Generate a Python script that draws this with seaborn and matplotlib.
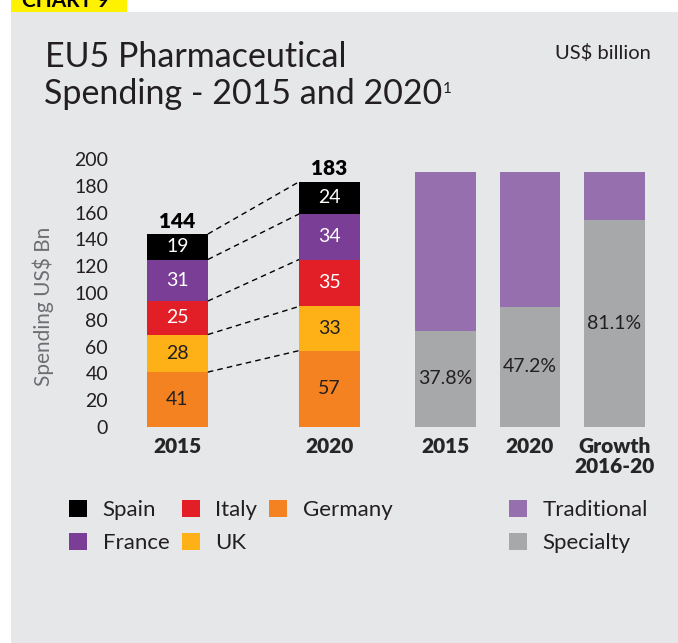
import matplotlib.pyplot as plt
from matplotlib.patches import Patch, Rectangle
import pandas as pd
import seaborn as sns

# spending by country, stacked bottom to top
years = ["2015", "2020"]
countries = ["Germany", "UK", "Italy", "France", "Spain"]
spend_2015 = [41, 28, 25, 31, 19]
spend_2020 = [57, 33, 35, 34, 24]
country_colors = {
    "Germany": "#F58220",
    "UK": "#FDB116",
    "Italy": "#E21E26",
    "France": "#7A3E97",
    "Spain": "#000000",
}
text_on_bar = {"Germany": "#231F20", "UK": "#231F20", "Italy": "white", "France": "white", "Spain": "white"}

# specialty share of spending
share_cats = ["2015", "2020", "Growth\n2016-20"]
specialty_share = [37.8, 47.2, 81.1]
traditional_color = "#9670AE"
specialty_color = "#A7A8AA"

BG = "#E6E7E9"
DARK = "#231F20"
W, H = 678, 643

sns.set_style("white")
plt.rcParams["font.family"] = ["Lato", "DejaVu Sans"]

fig = plt.figure(figsize=(W / 100, H / 100), dpi=100)
fig.patch.set_facecolor("white")
fig.patches.append(Rectangle((11 / W, 0), 1 - 11 / W, 1 - 12 / H, transform=fig.transFigure,
                             facecolor=BG, edgecolor="none", zorder=-10))
fig.patches.append(Rectangle((11 / W, 1 - 12 / H), (127 - 11) / W, 12 / H, transform=fig.transFigure,
                             facecolor="#FFF200", edgecolor="none", zorder=-10))
fig.text(22 / W, 1 - 7 / H, "CHART 9", weight="bold", fontsize=15, va="baseline", color="black")

# titles
fig.text(45 / W, 1 - 67 / H, "EU5 Pharmaceutical", fontsize=24.5, color=DARK, va="baseline")
t2 = fig.text(44 / W, 1 - 104 / H, "Spending - 2015 and 2020", fontsize=24.5, color=DARK,
              va="baseline")
bb = t2.get_window_extent(renderer=fig.canvas.get_renderer())
fig.text((bb.x1 + 1) / W, 1 - 93 / H, "1", fontsize=11, color=DARK, va="baseline")
fig.text(651 / W, 1 - 53 / H, "US$ billion", fontsize=14.5, color=DARK, va="center", ha="right")

# ---- left: stacked spending bars ----
df = pd.DataFrame({"Country": countries * 2,
                   "Year": [y for y in years for _ in countries],
                   "Spend": spend_2015 + spend_2020})
df["Top"] = df.groupby("Year")["Spend"].cumsum()

bar_w = 0.4
ax1 = fig.add_axes([115 / W, 216 / H, 280 / W, 268 / H])
for country in reversed(countries):
    sub = df[df["Country"] == country]
    sns.barplot(data=sub, x="Year", y="Top", order=years, color=country_colors[country],
                saturation=1, width=bar_w, errorbar=None, linewidth=0, ax=ax1)

for _, row in df.iterrows():
    xi = years.index(row["Year"])
    ax1.text(xi, row["Top"] - row["Spend"] / 2, str(row["Spend"]), ha="center", va="center",
             fontsize=14, color=text_on_bar[row["Country"]])

totals = df.groupby("Year")["Spend"].sum()
for xi, yr in enumerate(years):
    ax1.text(xi, totals[yr] + 2.5, str(totals[yr]), ha="center", va="bottom", fontsize=15,
             weight="heavy", color="black")

tops_2015 = df[df["Year"] == "2015"]["Top"].tolist()
tops_2020 = df[df["Year"] == "2020"]["Top"].tolist()
for a, b in zip(tops_2015, tops_2020):
    ax1.plot([bar_w / 2, 1 - bar_w / 2], [a, b], color="black", lw=1, ls=(0, (4, 3)))

ax1.set_ylim(0, 200)
ax1.set_xlim(-0.411, 1.431)
ax1.set_yticks(range(0, 201, 20))
ax1.set_xlabel("")
ax1.set_ylabel("")
ax1.tick_params(axis="both", length=0)
ax1.tick_params(axis="y", pad=5, labelsize=14, labelcolor=DARK)
ax1.tick_params(axis="x", pad=7)
ax1.set_xticks(range(len(years)))
ax1.set_xticklabels(years, fontsize=15, weight="heavy")
ax1.set_facecolor("none")
sns.despine(ax=ax1, left=True, bottom=True)
fig.text(43 / W, 1 - 306 / H, "Spending US$ Bn", rotation=90, fontsize=15,
         color="#6D6E71", ha="center", va="center")

# ---- right: specialty vs traditional share ----
share = pd.DataFrame({"Cat": share_cats, "Specialty": specialty_share})
share["Total"] = 100
ax2 = fig.add_axes([400 / W, 216 / H, 260 / W, 255 / H])
sns.barplot(data=share, x="Cat", y="Total", order=share_cats, color=traditional_color,
            saturation=1, width=0.72, errorbar=None, linewidth=0, ax=ax2)
sns.barplot(data=share, x="Cat", y="Specialty", order=share_cats, color=specialty_color,
            saturation=1, width=0.72, errorbar=None, linewidth=0, ax=ax2)
for xi, v in enumerate(specialty_share):
    ax2.text(xi, v / 2, f"{v:.1f}%", ha="center", va="center", fontsize=14, color=DARK)
ax2.set_ylim(0, 100)
ax2.set_xlim(-0.538, 2.538)
ax2.set_yticks([])
ax2.set_xlabel("")
ax2.set_ylabel("")
ax2.set_xticks(range(len(share_cats)))
ax2.set_xticklabels(share_cats, fontsize=15, weight="heavy", linespacing=1.1)
ax2.tick_params(axis="x", length=0, pad=7)
ax2.set_facecolor("none")
sns.despine(ax=ax2, left=True, bottom=True)

# ---- legends ----
leg_kw = dict(frameon=False, loc="upper left", prop={"size": 16},
              handlelength=0.81, handleheight=0.81, handletextpad=0.7, labelspacing=0.55,
              borderpad=0, borderaxespad=0, labelcolor=DARK)
order = ["Spain", "France", "Italy", "UK", "Germany"]
h1 = [Patch(facecolor=country_colors[c], edgecolor="none") for c in order]
fig.legend(h1, order, ncol=3, columnspacing=0.55, bbox_to_anchor=(69 / W, 1 - 500 / H), **leg_kw)
h2 = [Patch(facecolor=traditional_color, edgecolor="none"), Patch(facecolor=specialty_color, edgecolor="none")]
fig.legend(h2, ["Traditional", "Specialty"], bbox_to_anchor=(509 / W, 1 - 500 / H), **leg_kw)

fig.savefig("out.png", dpi=100, facecolor=fig.get_facecolor())
